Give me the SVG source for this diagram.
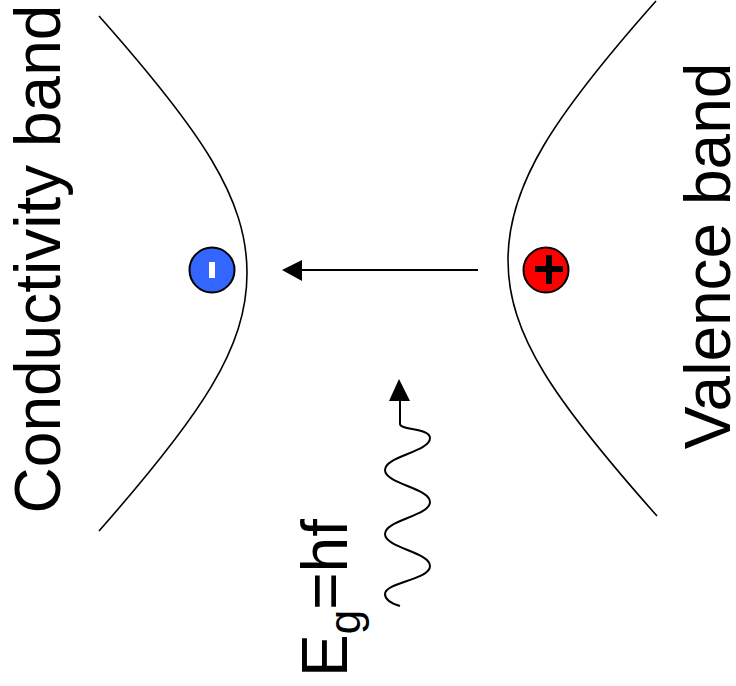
<svg xmlns="http://www.w3.org/2000/svg" width="736" height="686" viewBox="0 0 736 686">
<style>
.band{fill:none;stroke:#000;stroke-width:1.6}
.lbl{font-family:"Liberation Sans",Arial,sans-serif;font-size:64px;fill:#000}
.conn{fill:none;stroke:#000;stroke-width:2}
</style>
<rect width="736" height="686" fill="#fff"/>
<g id="conduction-band-curve"><path class="band" d="M99,16 C201,131 247,198 247,273 C247,348 201,415 99,531"/></g>
<g id="valence-band-curve"><path class="band" d="M656,1 C554,116 508,185 508,260 C508,335 555,401 657,516"/></g>
<g id="label-conductivity"><text class="lbl" transform="translate(60,259) rotate(-90)" text-anchor="middle">Conductivity band</text></g>
<g id="label-valence"><text class="lbl" transform="translate(730,256) rotate(-90)" text-anchor="middle">Valence band</text></g>
<g id="electron"><circle cx="212" cy="270" r="22.5" fill="#3366ff" stroke="#000" stroke-width="2"/><rect x="209" y="262" width="6" height="16" fill="#fff"/></g>
<g id="hole"><circle cx="546" cy="270" r="22.5" fill="#ff0000" stroke="#000" stroke-width="2"/><path d="M535,269 H563 M549,255 V284" stroke="#000" stroke-width="6" fill="none"/></g>
<g id="label-energy"><text class="lbl" transform="translate(347,677) rotate(-90)">E<tspan font-size="44" dy="13">g</tspan><tspan dy="-13">=hf</tspan></text></g>
<g id="connectors">
<path class="conn" d="M478,270 H300"/>
<polygon points="282,270 302,260 302,281" fill="#000"/>
<path class="conn" d="M400,400 L400,424 C400,430 430,428 430,438 C430,452 385,456 385,470 C385,484 430,488 430,502 C430,516 385,520 385,534 C385,548 430,552 430,566 C430,580 385,582 385,594 C385,600 393,604 400,606"/>
<polygon points="399,379 389,401 410,401" fill="#000"/>
</g>
</svg>
